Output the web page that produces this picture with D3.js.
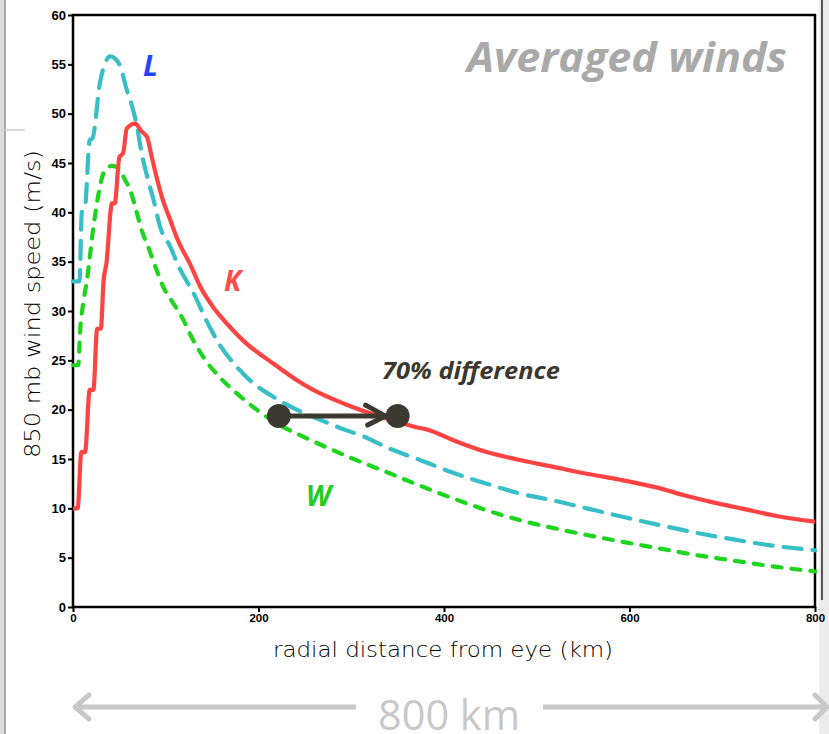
<!DOCTYPE html>
<html>
<head>
<meta charset="utf-8">
<script src="https://cdn.jsdelivr.net/npm/d3@7"></script>
<style>
  body { margin: 0; background: #fff; }
  svg { display: block; }
</style>
</head>
<body>
<svg id="chart" width="829" height="734"></svg>
<script>
// K (solid red)
const kmK   = [0, 5, 9, 13, 18, 22, 26, 30, 33, 36, 42, 45, 50, 54, 58, 67, 74, 80, 84, 90, 97, 105, 112, 117, 126, 137, 151, 169, 187, 205, 223, 241, 259, 295, 331, 367, 385, 410, 446, 482, 518, 554, 590, 630, 660, 690, 720, 760, 800];
const windK = [10, 10, 15.7, 15.7, 22, 22, 28.2, 28.2, 33.1, 34.8, 40.9, 40.9, 45.6, 46, 48.5, 49, 48.2, 47.6, 46, 43.6, 41.2, 39.2, 37.4, 36.4, 34.8, 32.5, 30.4, 28.4, 26.7, 25.4, 24.2, 23, 22, 20.5, 19.3, 18.3, 17.9, 16.9, 15.7, 14.9, 14.2, 13.5, 12.9, 12.1, 11.3, 10.6, 10.0, 9.2, 8.65];

// L (long dashes, cyan)
const kmL   = [0, 7, 9.5, 13, 18, 21, 29, 35, 40, 45, 51, 58, 63, 69, 74, 80, 87, 94, 105, 114, 124, 130, 144, 158, 176, 194, 216, 241, 266, 295, 313, 340, 374, 410, 446, 482, 518, 554, 590, 640, 676, 712, 748, 800];
const windL = [33, 33, 40, 40.6, 47.3, 47.5, 53.1, 55.2, 55.8, 55.6, 54.8, 52.4, 51, 48.7, 46, 43.6, 41.2, 38.5, 36.5, 34.5, 32.8, 31.8, 29.0, 26.6, 24.4, 22.7, 21.3, 20.0, 19.0, 17.9, 17.3, 16.1, 14.9, 13.6, 12.5, 11.5, 10.8, 10.0, 9.2, 8.15, 7.45, 6.85, 6.3, 5.75];

// W (short dashes, green)
const kmW   = [0, 5.7, 7.5, 11, 15, 22, 27, 34.5, 42, 49, 56, 61.5, 67, 74, 81, 90, 97, 108, 119, 126, 140, 158, 176, 198, 220, 252, 300, 340, 374, 410, 446, 482, 518, 554, 590, 640, 676, 712, 748, 800];
const windW = [24.5, 24.5, 27.7, 30.8, 33.1, 38.5, 41.6, 44.3, 44.7, 44.5, 43.3, 42.3, 40.6, 38.2, 36.5, 34.2, 32.5, 30.8, 29.1, 27.7, 25.4, 23.3, 21.7, 20.0, 18.6, 17.1, 15.1, 13.6, 12.3, 11.0, 9.8, 8.8, 8.0, 7.3, 6.65, 5.8, 5.2, 4.7, 4.2, 3.6];

const yTicks = d3.range(0, 61, 5);
const xTicks = [0, 200, 400, 600, 800];

// the "70% difference" marker: from W to K at the same speed
const diffFrom = [222, 19.35];
const diffTo   = [350, 19.35];

const svg = d3.select("#chart");
const pLeft = 73, pRight = 815, pTop = 15, pBottom = 607;

const x = d3.scaleLinear().domain([0, 800]).range([pLeft, pRight]);
const y = d3.scaleLinear().domain([0, 60]).range([pBottom, pTop]);

// slide edges
svg.append("rect").attr("x", 0).attr("y", 0).attr("width", 4).attr("height", 734).attr("fill", "#dcdcdc");
svg.append("line").attr("x1", 5).attr("x2", 5).attr("y1", 0).attr("y2", 734)
  .attr("stroke", "#8a8a8a").attr("stroke-width", 1.5);
svg.append("line").attr("x1", 0).attr("x2", 25).attr("y1", 130).attr("y2", 130)
  .attr("stroke", "#d0d0d0").attr("stroke-width", 1.5);
svg.append("rect").attr("x", 819).attr("y", 0).attr("width", 10).attr("height", 734).attr("fill", "#ececec");
svg.append("line").attr("x1", 822).attr("x2", 822).attr("y1", 0).attr("y2", 600)
  .attr("stroke", "#555").attr("stroke-width", 2);

// axes
const yAxis = svg.append("g")
  .attr("transform", `translate(${pLeft},0)`)
  .call(d3.axisLeft(y).tickValues(yTicks).tickSize(5).tickPadding(2));
const xAxis = svg.append("g")
  .attr("transform", `translate(0,${pBottom})`)
  .call(d3.axisBottom(x).tickValues(xTicks).tickSize(5).tickPadding(2));

[yAxis, xAxis].forEach(g => {
  g.select(".domain").remove();
  g.selectAll(".tick line").attr("stroke", "#000").attr("stroke-width", 2);
  g.selectAll(".tick text").attr("fill", "#000")
    .style("font-family", "Liberation Sans, Arial, sans-serif")
    .style("font-weight", "bold");
});
yAxis.selectAll(".tick text").style("font-size", "13px");
xAxis.selectAll(".tick text").style("font-size", "11.5px");

// frame
svg.append("rect")
  .attr("x", pLeft).attr("y", pTop)
  .attr("width", pRight - pLeft).attr("height", pBottom - pTop)
  .attr("fill", "none").attr("stroke", "#000").attr("stroke-width", 2.5);

// curves
const series = [
  { km: kmL, wind: windL, color: "#38bec6", dash: "18,11" },
  { km: kmW, wind: windW, color: "#1ed51e", dash: "9,10" },
  { km: kmK, wind: windK, color: "#ff4343", dash: null }
];

const line = d3.line()
  .x(d => x(d[0]))
  .y(d => y(d[1]))
  .curve(d3.curveMonotoneX);

series.forEach(s => {
  svg.append("path")
    .datum(s.km.map((k, i) => [k, s.wind[i]]))
    .attr("d", line)
    .attr("fill", "none")
    .attr("stroke", s.color)
    .attr("stroke-width", 4.2)
    .attr("stroke-linecap", s.dash ? "round" : "butt")
    .attr("stroke-linejoin", "round")
    .attr("stroke-dasharray", s.dash);
});

// axis titles
svg.append("text")
  .attr("x", 443).attr("y", 657)
  .attr("text-anchor", "middle")
  .attr("textLength", 340).attr("lengthAdjust", "spacingAndGlyphs")
  .style("font-family", "DejaVu Sans, sans-serif")
  .style("font-weight", 200)
  .style("font-size", "21px")
  .text("radial distance from eye (km)");

svg.append("text")
  .attr("transform", "translate(40,304) rotate(-90)")
  .attr("text-anchor", "middle")
  .attr("textLength", 308).attr("lengthAdjust", "spacingAndGlyphs")
  .style("font-family", "DejaVu Sans, sans-serif")
  .style("font-weight", 200)
  .style("font-size", "21px")
  .text("850 mb wind speed (m/s)");

// labels
const bi = sel => sel.style("font-family", "Open Sans, sans-serif")
  .style("font-weight", "bold").style("font-style", "italic");

bi(svg.append("text").attr("x", 467).attr("y", 72)
  .attr("textLength", 320).attr("lengthAdjust", "spacingAndGlyphs")
  .style("font-size", "42px").attr("fill", "#a9a9a9").text("Averaged winds"));

bi(svg.append("text").attr("x", 143).attr("y", 76)
  .style("font-size", "29px").attr("fill", "#2243ff").text("L"));
bi(svg.append("text").attr("x", 224).attr("y", 291)
  .style("font-size", "28px").attr("fill", "#ff4a4a").text("K"));
bi(svg.append("text").attr("x", 306).attr("y", 506)
  .style("font-size", "28px").attr("fill", "#22cc22").text("W"));

bi(svg.append("text").attr("x", 382).attr("y", 379)
  .attr("textLength", 178).attr("lengthAdjust", "spacingAndGlyphs")
  .style("font-size", "24px").attr("fill", "#3a382e").text("70% difference"));

// difference arrow
const dark = "#3c3a2f";
const ax1 = x(diffFrom[0]), ax2 = x(diffTo[0]), ay = y(diffFrom[1]);
svg.append("line").attr("x1", ax1).attr("x2", ax2 - 12).attr("y1", ay).attr("y2", ay)
  .attr("stroke", dark).attr("stroke-width", 5);
svg.append("path")
  .attr("d", `M${ax2 - 32},${ay - 11}L${ax2 - 12},${ay}L${ax2 - 30},${ay + 9}`)
  .attr("fill", "none").attr("stroke", dark).attr("stroke-width", 5)
  .attr("stroke-linecap", "round").attr("stroke-linejoin", "round");
svg.selectAll("circle.dot").data([diffFrom, diffTo]).enter()
  .append("circle").attr("class", "dot")
  .attr("cx", d => x(d[0])).attr("cy", d => y(d[1])).attr("r", 12)
  .attr("fill", dark);

// 800 km span arrow under the chart
const grey = "#c8c8c8";
const sy = 707;
svg.append("line").attr("x1", x(0) + 2).attr("x2", 356).attr("y1", sy).attr("y2", sy)
  .attr("stroke", grey).attr("stroke-width", 5);
svg.append("line").attr("x1", 543).attr("x2", x(800) + 10).attr("y1", sy).attr("y2", sy)
  .attr("stroke", grey).attr("stroke-width", 5);
svg.append("path")
  .attr("d", `M${x(0) + 16},${sy - 12}L${x(0) + 2},${sy}L${x(0) + 16},${sy + 12}`)
  .attr("fill", "none").attr("stroke", grey).attr("stroke-width", 5)
  .attr("stroke-linecap", "round").attr("stroke-linejoin", "round");
svg.append("path")
  .attr("d", `M${x(800)},${sy - 12}L${x(800) + 12},${sy}L${x(800)},${sy + 12}`)
  .attr("fill", "none").attr("stroke", grey).attr("stroke-width", 5)
  .attr("stroke-linecap", "round").attr("stroke-linejoin", "round");
svg.append("text").attr("x", 449).attr("y", 730)
  .attr("text-anchor", "middle")
  .attr("textLength", 142).attr("lengthAdjust", "spacingAndGlyphs")
  .style("font-family", "Open Sans, sans-serif")
  .style("font-size", "42px").attr("fill", grey).text("800 km");
</script>
</body>
</html>
